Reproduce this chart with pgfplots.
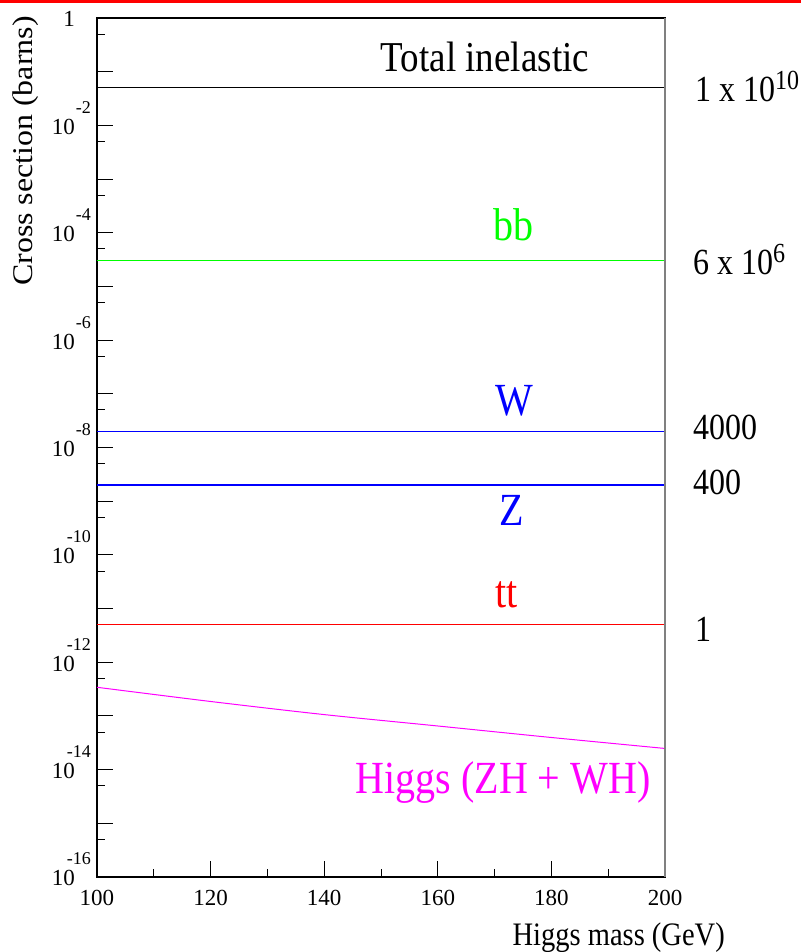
\documentclass[border=0pt]{standalone}
\usepackage{pgfplots}
\pgfplotsset{compat=1.18}
\usepackage{fontspec}
\setmainfont{Liberation Serif}
\usepackage{graphicx}

\definecolor{rootgreen}{RGB}{0,255,0}
\definecolor{rootblue}{RGB}{0,0,255}
\definecolor{rootred}{RGB}{255,0,0}
\definecolor{rootmagenta}{RGB}{255,0,255}

\newcommand\fs[1]{\fontsize{#1}{#1}\selectfont}
% ROOT-style power-of-ten label: "10" with a raised exponent, right aligned
\newcommand\tenexp[1]{10\makebox[16pt][r]{\smash{\raisebox{21pt}{\fs{18}#1}}}}
\newcommand\tall[1]{\scalebox{1}[1.15]{#1}}

\begin{document}
\begin{tikzpicture}
\useasboundingbox (-97pt,-75pt) rectangle (704pt,877pt);
\begin{axis}[
  scale only axis, width=568pt, height=859pt,
  at={(0pt,0pt)}, anchor=south west,
  xmin=100, xmax=200, ymode=log, ymin=1e-16, ymax=1,
  clip=false,
  axis line style={black, line width=1.2pt},
  tick style={black, line width=1pt},
  tick pos=left,
  major tick length=16pt, minor tick length=8pt,
  xtick={100,120,140,160,180,200},
  xticklabels={100,120,140,160,180,200},
  minor xtick={110,130,150,170,190},
  ytick={1e-16,1e-14,1e-12,1e-10,1e-8,1e-6,1e-4,1e-2,1},
  yticklabels={\tenexp{-16},\tenexp{-14},\tenexp{-12},\tenexp{-10},\tenexp{-8},\tenexp{-6},\tenexp{-4},\tenexp{-2},1\makebox[16pt]{}},
  extra y ticks={1e-15,1e-13,1e-11,1e-9,1e-7,1e-5,1e-3,1e-1},
  extra y tick labels={},
  extra y tick style={major tick length=16pt, grid=none},
  minor ytick={5e-16,5e-15,5e-14,5e-13,5e-12,5e-11,5e-10,5e-9,5e-8,5e-7,5e-6,5e-5,5e-4,5e-3,5e-2,5e-1},
  x tick label style={font=\fs{23}, inner sep=0pt, yshift=-13pt},
  y tick label style={font=\fs{23}, inner sep=0pt, xshift=-6pt, yshift=-1.4pt},
  xlabel={\tall{Higgs mass (GeV)}},
  ylabel={\scalebox{1.12}[1]{Cross section (barns)}},
  xlabel style={at={(axis description cs:1.1056,-0.0792)}, anchor=base east, inner sep=0pt, font=\fs{28.5}},
  ylabel style={at={(axis description cs:-0.1127,1.0023)}, anchor=base east, inner sep=0pt, font=\fs{28.5}},
]

% cross sections (barns)
\addplot[draw=black, line width=1pt] coordinates {(100,0.05) (200,0.05)};
\addplot[draw=rootgreen, line width=1pt] coordinates {(100,3e-5) (200,3e-5)};
\addplot[draw=rootblue, line width=1.2pt] coordinates {(100,2e-8) (200,2e-8)};
\addplot[draw=rootblue, line width=1.2pt] coordinates {(100,2e-9) (200,2e-9)};
\addplot[draw=rootred, line width=1pt] coordinates {(100,5e-12) (200,5e-12)};
\addplot[draw=rootmagenta, line width=1pt, smooth] coordinates {
  (100,3.42e-13) (120,1.86e-13) (140,1.06e-13) (160,6.5e-14) (180,3.97e-14) (200,2.48e-14)};

% process names
\node[anchor=base, inner sep=0pt, font=\fs{37}] at (axis cs:168.3,0.1) {\tall{Total inelastic}};
\node[anchor=base, inner sep=0pt, font=\fs{40}, text=rootgreen] at (axis cs:173.4,7.1e-5) {\tall{bb}};
\node[anchor=base, inner sep=0pt, font=\fs{40}, text=rootblue] at (axis cs:173.4,4.03e-8) {\tall{W}};
\node[anchor=base, inner sep=0pt, font=\fs{40}, text=rootblue] at (axis cs:173.1,3.6e-10) {\tall{Z}};
\node[anchor=base, inner sep=0pt, font=\fs{40}, text=rootred] at (axis cs:172.1,1.026e-11) {\tall{tt}};
\node[anchor=base, inner sep=0pt, font=\fs{40}, text=rootmagenta] at (axis cs:171.5,3.67e-15) {\tall{Higgs (ZH + WH)}};

% relative event rates
\node[anchor=base west, inner sep=0pt, font=\fs{32}, xshift=30pt, yshift=-14pt] at (axis cs:200,0.05)
  {\tall{1 x 10\raisebox{11pt}{\fs{24}10}}};
\node[anchor=base west, inner sep=0pt, font=\fs{32}, xshift=28pt, yshift=-14pt] at (axis cs:200,3e-5)
  {\tall{6 x 10\raisebox{11pt}{\fs{24}6}}};
\node[anchor=base west, inner sep=0pt, font=\fs{32}, xshift=28pt, yshift=-8pt] at (axis cs:200,2e-8) {\tall{4000}};
\node[anchor=base west, inner sep=0pt, font=\fs{32}, xshift=28pt, yshift=-9pt] at (axis cs:200,2e-9) {\tall{400}};
\node[anchor=base west, inner sep=0pt, font=\fs{32}, xshift=30pt, yshift=-17pt] at (axis cs:200,5e-12) {\tall{1}};

% right frame edge
\draw[gray, line width=1.5pt] (rel axis cs:1,0) -- (rel axis cs:1,1);
\end{axis}
% page rule
\fill[red] (-97pt,874.3pt) rectangle (704pt,877pt);
\end{tikzpicture}
\end{document}
